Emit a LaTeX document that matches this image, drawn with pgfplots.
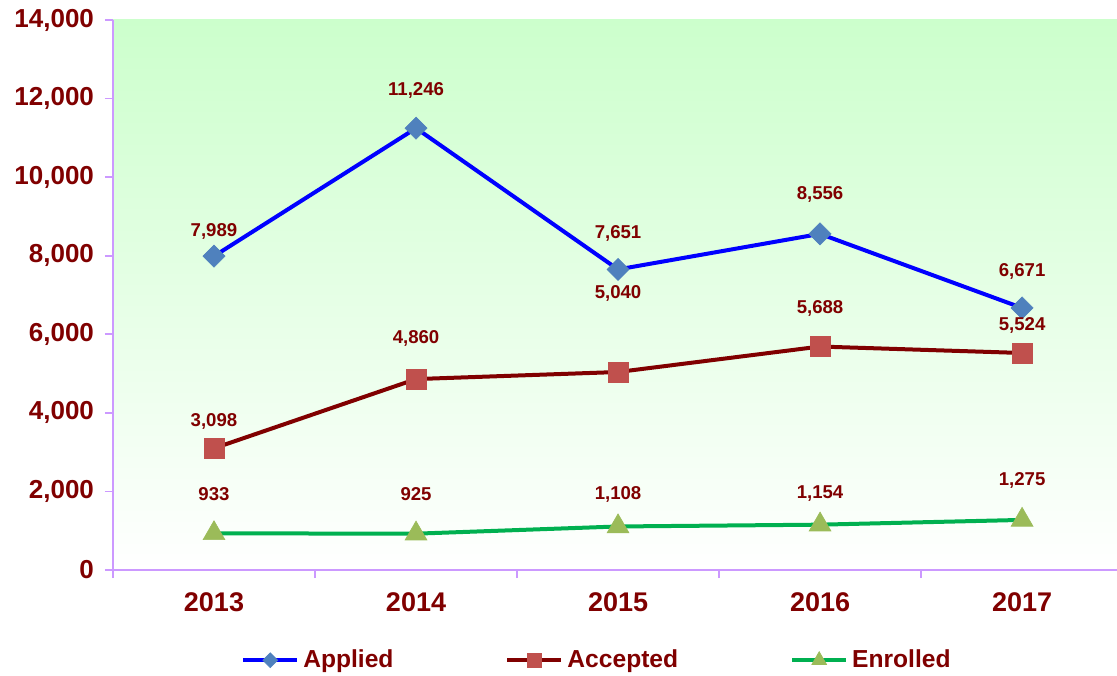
\documentclass[border=0pt]{standalone}
\usepackage{pgfplots}
\pgfplotsset{compat=1.18}
\usepackage{pgfplotstable}
\usepackage{fontspec}
\setmainfont{Liberation Sans}
\definecolor{dred}{HTML}{800000}
\definecolor{axpurple}{HTML}{CC99FF}
\definecolor{bggreen}{HTML}{CCFFCC}
\definecolor{mblue}{HTML}{4F81BD}
\definecolor{mred}{HTML}{C0504D}
\definecolor{lgreen}{HTML}{00B050}
\definecolor{mgreen}{HTML}{9BBB59}

\pgfplotstableread{
x y off
0 7989 12.5
1 11246 19
2 7651 18
3 8556 19.5
4 6671 18
}\applied
\pgfplotstableread{
x y off
0 3098 13.5
1 4860 20.5
2 5040 39.5
3 5688 19
4 5524 14
}\accepted
\pgfplotstableread{
x y off
0 933 19.5
1 925 20
2 1108 16
3 1154 15.5
4 1275 19.5
}\enrolled

\begin{document}
\begin{tikzpicture}
\useasboundingbox (-56.5pt,-52.5pt) rectangle (502pt,285pt);
\begin{axis}[
  at={(0,0)}, anchor=south west,
  width=502pt, height=275pt, scale only axis,
  xmin=-0.5, xmax=4.47,
  ymin=0, ymax=14000,
  axis lines*=left,
  axis line style={color=axpurple, line width=0.9pt},
  axis background/.style={top color=bggreen, bottom color=white},
  tick align=outside,
  major tick length=4pt,
  tick style={color=axpurple, line width=0.8pt},
  xtick={-0.5,0.5,1.5,2.5,3.5},
  xticklabels={},
  extra x ticks={0,1,2,3,4},
  extra x tick labels={2013,2014,2015,2016,2017},
  extra x tick style={tick style={draw=none}},
  ytick={0,2000,...,14000},
  scaled y ticks=false,
  /pgf/number format/1000 sep={,},
  /pgf/number format/assume math mode=true,
  ticklabel style={font=\bfseries\fontsize{13}{15}\selectfont, text=dred},
  xticklabel style={font=\bfseries\fontsize{13.5}{15}\selectfont, yshift=-4pt},
  yticklabel style={xshift=-2pt},
  nodes near coords,
  point meta=y,
  visualization depends on={\thisrow{off} \as \myoff},
  every node near coord/.append style={anchor=center, yshift=\myoff pt, font=\bfseries\fontsize{9.3}{11}\selectfont, text=dred},
  legend style={at={(0.483,-0.164)}, anchor=center, draw=none, fill=none,
    font=\bfseries\fontsize{12.3}{14}\selectfont, text=dred,
    /tikz/every even column/.append style={column sep=54pt}},
  legend columns=3,
  legend image code/.code={\draw[mark repeat=2,mark phase=2,every mark/.append style={scale=0.68}] plot coordinates {(0pt,0pt)(13.5pt,0pt)(27pt,0pt)};},
  clip=false,
]
\addplot[color=blue, line width=2pt, mark=square*, mark size=3.9pt,
  mark options={fill=mblue, draw=mblue, line width=0.3pt, rotate=45}] table[x=x,y=y] {\applied};
\addlegendentry{Applied}
\addplot[color=dred, line width=2pt, mark=square*, mark size=5pt,
  mark options={fill=mred, draw=mred, line width=0.3pt}] table[x=x,y=y] {\accepted};
\addlegendentry{Accepted}
\addplot[color=lgreen, line width=2pt, mark=triangle*, mark size=6.3pt,
  mark options={fill=mgreen, draw=mgreen, line width=0.3pt}] table[x=x,y=y] {\enrolled};
\addlegendentry{Enrolled}
\end{axis}
\end{tikzpicture}
\end{document}
